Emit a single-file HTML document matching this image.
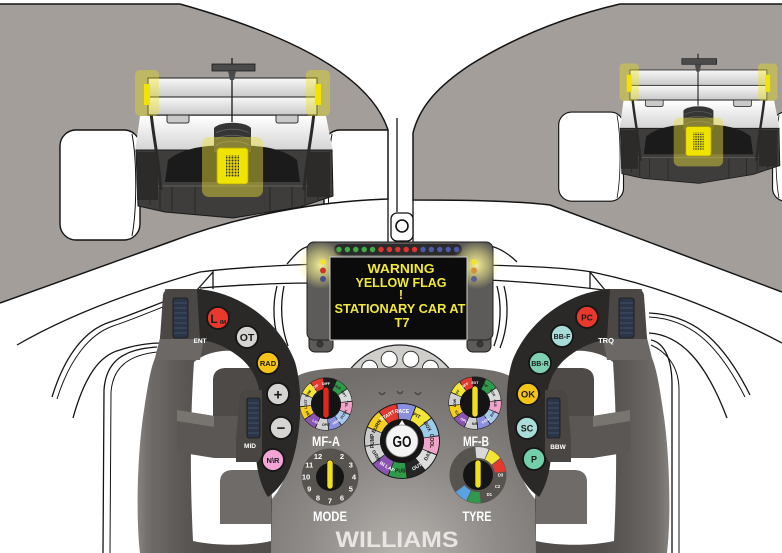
<!DOCTYPE html>
<html><head><meta charset="utf-8"><style>
html,body{margin:0;padding:0;background:#fff;}
svg{display:block;}
text{font-family:"Liberation Sans",Arial,sans-serif;font-weight:bold;}
</style></head><body>
<svg width="782" height="553" viewBox="0 0 782 553" xmlns="http://www.w3.org/2000/svg">
<defs>
 <clipPath id="clipL"><path d="M0,4 L180,4 C290,35 370,75 388,130 L388,199 C320,201 240,215 167,243 L0,303 Z"/></clipPath>
 <clipPath id="clipR"><path d="M620,4 L782,4 L782,292 L550,205 C520,201 470,200 413,200 L413,133 C420,105 440,85 470,65 C510,40 560,18 620,4 Z"/></clipPath>
 <linearGradient id="wing" x1="0" y1="0" x2="0" y2="1"><stop offset="0" stop-color="#f8f8f8"/><stop offset="1" stop-color="#c9c9c9"/></linearGradient>
 <linearGradient id="bodyWhite" x1="0" y1="0" x2="0" y2="1"><stop offset="0" stop-color="#ffffff"/><stop offset="1" stop-color="#d2d2d2"/></linearGradient>
 <pattern id="dots" width="3" height="3" patternUnits="userSpaceOnUse"><rect width="3" height="3" fill="#e5d800"/><circle cx="1.5" cy="1.5" r="0.95" fill="#333"/></pattern>
 <radialGradient id="bodyG" gradientUnits="userSpaceOnUse" cx="403" cy="560" r="190"><stop offset="0" stop-color="#b9b5b1"/><stop offset="0.5" stop-color="#8f8b88"/><stop offset="1" stop-color="#726e6b"/></radialGradient>
 <linearGradient id="gripG" gradientUnits="userSpaceOnUse" x1="137" y1="0" x2="205" y2="0"><stop offset="0" stop-color="#87837f"/><stop offset="0.2" stop-color="#6f6b68"/><stop offset="0.6" stop-color="#5e5a57"/><stop offset="1" stop-color="#524e4b"/></linearGradient>
 <radialGradient id="glow"><stop offset="0" stop-color="#fbf6a0" stop-opacity="0.95"/><stop offset="0.55" stop-color="#f3ee8a" stop-opacity="0.5"/><stop offset="1" stop-color="#f3ee8a" stop-opacity="0"/></radialGradient>
 <g id="car">
  <rect x="60" y="130" width="80" height="110" rx="16" fill="#fff" stroke="#111" stroke-width="1.4"/>
  <path d="M132,134 C137,160 137,210 132,236" fill="none" stroke="#111" stroke-width="1"/>
  <rect x="324" y="130" width="80" height="110" rx="16" fill="#fff" stroke="#111" stroke-width="1.4"/>
  <path d="M332,134 C327,160 327,210 332,236" fill="none" stroke="#111" stroke-width="1"/>
  <path d="M140,116 L326,116 L333,152 L135,152 Z" fill="url(#bodyWhite)"/>
  <path d="M136,150 L332,150 L333,196 L300,207 L233,218 L165,212 L138,206 Z" fill="#3e3d3c" stroke="#1a1a1a" stroke-width="1"/>
  <path d="M168,160 C185,146 215,144 232,147 C250,144 280,146 297,160 L300,182 L165,182 Z" fill="#1b1b1b"/>
  <path d="M140,186 L330,186" stroke="#5a5958" stroke-width="1.2"/>
  <path d="M150,187 V205 M160,187 V209 M172,187 V211 M195,187 V213 M270,187 V211 M292,187 V208 M305,187 V204 M318,187 V200" stroke="#262626" stroke-width="1"/>
  <rect x="137" y="152" width="21" height="48" fill="#2c2b2a"/>
  <rect x="307" y="152" width="23" height="45" fill="#2c2b2a"/>
  <path d="M214,152 L214,128 C220,121 245,121 251,128 L251,152 Z" fill="#363535"/>
  <path d="M216,133 C225,128 240,128 249,133 M216,139 C225,134 240,134 249,139 M216,145 C225,140 240,140 249,145" fill="none" stroke="#5c5c5c" stroke-width="1"/>
  <path d="M151,112 C153,135 158,155 161,190" fill="none" stroke="#2a2a2a" stroke-width="3"/>
  <path d="M314,112 C312,135 307,155 304,190" fill="none" stroke="#2a2a2a" stroke-width="3"/>
  <rect x="167" y="114" width="22" height="9" rx="2" fill="#c9c9c9" stroke="#333" stroke-width="1"/>
  <rect x="276" y="114" width="22" height="9" rx="2" fill="#c9c9c9" stroke="#333" stroke-width="1"/>
  <rect x="148" y="78" width="169" height="19" fill="url(#wing)" stroke="#1a1a1a" stroke-width="1"/>
  <rect x="148" y="97" width="169" height="18" fill="url(#wing)" stroke="#1a1a1a" stroke-width="1"/>
  <line x1="232" y1="58" x2="232" y2="122" stroke="#1a1a1a" stroke-width="1.3"/>
  <rect x="212" y="64" width="43" height="7" fill="#4a4a4a" stroke="#1a1a1a" stroke-width="0.8"/>
  <path d="M228,71 L236,71 L234,80 L230,80 Z" fill="#4a4a4a"/>
  <rect x="135" y="70" width="24" height="46" rx="5" fill="#f0e400" opacity="0.35"/>
  <rect x="306" y="70" width="24" height="46" rx="5" fill="#f0e400" opacity="0.35"/>
  <rect x="144" y="84" width="6" height="21" fill="#f2e300"/>
  <rect x="315" y="84" width="6" height="21" fill="#f2e300"/>
  <rect x="202" y="137" width="61" height="60" rx="7" fill="#ece03a" opacity="0.45"/>
  <rect x="217" y="148" width="31" height="36" rx="3" fill="#efe300" stroke="#b8a800" stroke-width="0.8"/>
  <rect x="226" y="155" width="13" height="22" fill="url(#dots)"/>
 </g>
 <g id="gripHalf">
  <path d="M165,289 L202,289 L202,340 L262,350 L272,500 L271,553 L140,553 C136,520 137,460 143,417 C147,390 150,370 155,358 L160,338 Z" fill="url(#gripG)"/>
  <path d="M194,362 C210,348 245,346 262,362 L266,470 L271,500 L271,541 C250,546 215,546 193,541 C190,480 190,420 194,362 Z" fill="#fff"/>
  <path d="M213,380 C213,372 218,368 226,368 L262,368 L262,423 L213,419 Z" fill="#4e4a47"/>
  <path d="M177,410 L214,416 L252,416 L252,458 L214,458 L177,452 Z" fill="#5b5754"/>
  <path d="M177,410 L214,416 L214,427 L177,421 Z" fill="#78746f"/>
  <path d="M220,482 C220,474 225,470 233,470 L271,470 L271,524 L220,524 Z" fill="#6f6b68"/>
  <path d="M163,295 Q164,289 172,289 L202,289 L204,339 L160,339 Z" fill="#4b4744"/>
  <path d="M160,339 L204,339 L200,360 L155,360 Z" fill="#6c6865"/>
  <path d="M197,289 C240,292 280,322 295,362 C304,392 301,440 290,468 C285,480 278,490 268,497 C260,485 255,465 256,445 L260,400 C260,380 250,365 238,356 C225,346 212,341 200,340 Z" fill="#2b2928"/>
  <path d="M244,390 L262,390 L262,455 L258,462 L236,462 L236,440 L240,394 Z" fill="#4a4643"/>
  <rect x="173" y="298" width="15" height="40" rx="2" fill="#2b3547" stroke="#1a1a1a" stroke-width="0.8"/>
  <path d="M174,303h13M174,308h13M174,313h13M174,318h13M174,323h13M174,328h13M174,333h13" stroke="#4a5a75" stroke-width="0.7"/>
  <rect x="247" y="398" width="13" height="40" rx="2" fill="#2b3547" stroke="#1a1a1a" stroke-width="0.8"/>
  <path d="M248,403h11M248,408h11M248,413h11M248,418h11M248,423h11M248,428h11M248,433h11" stroke="#4a5a75" stroke-width="0.7"/>
 </g>
</defs>

<!-- grey mirror regions -->
<path d="M0,4 L180,4 C290,35 370,75 388,130 L388,199 C320,201 240,215 167,243 L0,303 Z" fill="#a49e9a"/>
<path d="M620,4 L782,4 L782,292 L550,205 C520,201 470,200 413,200 L413,133 C420,105 440,85 470,65 C510,40 560,18 620,4 Z" fill="#a49e9a"/>
<g clip-path="url(#clipL)"><use href="#car"/></g>
<g clip-path="url(#clipR)"><use href="#car" transform="translate(510.1,6.8) scale(0.81)"/></g>
<g fill="none" stroke="#141414" stroke-width="1.5">
 <path d="M0,4 L180,4 C290,35 370,75 388,130 L388,199 C320,201 240,215 167,243 L0,303"/>
 <path d="M782,292 L550,205 C520,201 470,200 413,200 L413,133 C420,105 440,85 470,65 C510,40 560,18 620,4 L782,4"/>
</g>

<!-- halo lines -->
<g fill="none" stroke="#151515" stroke-width="1.3">
 <path d="M388,199 L388,242"/>
 <path d="M413,200 L413,242"/>
 <path d="M397,118 C397,160 397,190 397,212"/>
 <path d="M17,345 C60,320 120,295 200,272 C240,267 290,265 320,264"/>
 <path d="M480,265 C530,266 570,268 592,272 C640,282 700,300 782,343"/>
 <path d="M200,288 C240,285 280,283 313,283"/>
 <path d="M487,280 C530,282 565,285 612,291"/>
 <path d="M197,290 L213,272 L213,289"/>
 <path d="M590,272 L590,289 M590,272 L605,290"/>
 <path d="M287,264 C295,255 300,248 310,246"/>
 <path d="M490,246 C500,248 510,255 517,262"/>
 <path d="M52,397 C65,355 85,330 110,322 C140,312 170,298 197,290"/>
 <path d="M57,399 C70,358 90,334 113,326 C143,316 172,302 199,294" stroke-width="1"/>
 <path d="M73,418 C85,375 100,355 120,350 C135,345 150,343 162,343"/>
 <path d="M103,553 L104,390 C106,360 125,349 157,347"/>
 <path d="M110,553 L111,392 C113,366 130,355 157,352" stroke-width="1"/>
 <path d="M649,313 C690,315 720,335 750,395"/>
 <path d="M649,317 C688,319 716,340 745,397" stroke-width="1"/>
 <path d="M649,333 C680,335 705,360 727,418"/>
 <path d="M651,340 C665,343 672,360 672,385 L672,553"/>
 <path d="M651,345 C662,350 679,362 679,390 L679,553" stroke-width="1"/>
 <path d="M277,286 C272,305 273,328 281,348"/>
 <path d="M284,286 C280,305 281,327 288,346"/>
 <path d="M504,286 C509,305 508,328 500,348"/>
 <path d="M497,286 C502,305 501,327 494,346"/>
</g>
<rect x="391" y="213" width="22" height="28" rx="6" fill="#fff" stroke="#111" stroke-width="1.3"/>
<circle cx="402" cy="226" r="6" fill="#fff" stroke="#111" stroke-width="1.6"/>

<!-- hub -->
<circle cx="400" cy="408" r="63" fill="#d0cecb" stroke="#222" stroke-width="1.2"/>
<g fill="#fff" stroke="#333" stroke-width="1">
 <circle cx="389.2" cy="359.2" r="8"/><circle cx="410.8" cy="359.2" r="8"/>
 <circle cx="430.4" cy="368.3" r="8"/><circle cx="369.6" cy="368.3" r="8"/>
</g>

<!-- center body -->
<path d="M271,553 L271,500 C280,490 288,475 290,455 L290,385 C292,372 320,368 350,368 L457,368 C487,368 515,372 517,385 L517,455 C519,475 527,490 536,500 L536,553 Z" fill="url(#bodyG)"/>

<!-- grips -->
<use href="#gripHalf"/>
<use href="#gripHalf" transform="translate(807,0) scale(-1,1)"/>

<!-- buttons -->
<g stroke="#151515" stroke-width="1.8">
 <circle cx="218" cy="318" r="11" fill="#e8392c"/>
 <circle cx="247" cy="337" r="11" fill="#d6d4d2"/>
 <circle cx="268" cy="363" r="11" fill="#f6c417"/>
 <circle cx="278" cy="394" r="11" fill="#d6d4d2"/>
 <circle cx="281" cy="428" r="11" fill="#d6d4d2"/>
 <circle cx="273" cy="460" r="11" fill="#f2a4d6"/>
 <circle cx="587" cy="317" r="11" fill="#e8392c"/>
 <circle cx="562" cy="336" r="11" fill="#a9dcd9"/>
 <circle cx="540" cy="363" r="11" fill="#7fd0b3"/>
 <circle cx="528" cy="394" r="11" fill="#f6c417"/>
 <circle cx="527" cy="428" r="11" fill="#a9dcd9"/>
 <circle cx="534" cy="459" r="11" fill="#72cfa9"/>
</g>
<g fill="#1a1a1a" text-anchor="middle">
 <text x="214" y="323" font-size="12" font-weight="normal">L</text>
 <text x="223" y="324" font-size="5.5">IM</text>
 <text x="247" y="341" font-size="10.5">OT</text>
 <text x="268" y="366" font-size="7.5">RAD</text>
 <text x="278" y="399.5" font-size="15">+</text>
 <text x="281" y="433" font-size="15">−</text>
 <text x="273" y="463" font-size="7.5">N\R</text>
 <text x="587" y="320.5" font-size="8.5">PC</text>
 <text x="562" y="339" font-size="7">BB-F</text>
 <text x="540" y="366" font-size="7">BB-R</text>
 <text x="528" y="397.5" font-size="9.5">OK</text>
 <text x="527" y="431.5" font-size="9">SC</text>
 <text x="534" y="462.5" font-size="9">P</text>
</g>
<g fill="#fff" text-anchor="middle">
 <text x="200" y="343" font-size="6.5">ENT</text>
 <text x="250" y="448" font-size="6.5">MID</text>
 <text x="606" y="343" font-size="7.5">TRQ</text>
 <text x="558" y="449" font-size="6.5">BBW</text>
</g>

<!-- GO dial -->
<path d="M379,392 Q382,397 385,392 M397,391 Q400,396 403,391 M415,392 Q418,397 421,392" fill="none" stroke="#4a4644" stroke-width="1.4"/>
<g transform="translate(402,441)">
 <circle r="38" fill="#1b1b1b"/>
 <g fill="none" stroke-width="15" stroke-dasharray="14.6 170.75">
  <circle r="29.5" stroke="#8a8fe0" transform="rotate(-97.3)"/>
  <circle r="29.5" stroke="#f3e536" transform="rotate(-67.3)"/>
  <circle r="29.5" stroke="#9fcbea" transform="rotate(-37.3)"/>
  <circle r="29.5" stroke="#f1a3c9" transform="rotate(-7.3)"/>
  <circle r="29.5" stroke="#dcdcdc" transform="rotate(22.7)"/>
  <circle r="29.5" stroke="#262626" transform="rotate(52.7)"/>
  <circle r="29.5" stroke="#2f9a49" transform="rotate(82.7)"/>
  <circle r="29.5" stroke="#8b54b3" transform="rotate(112.7)"/>
  <circle r="29.5" stroke="#d4d4d4" transform="rotate(142.7)"/>
  <circle r="29.5" stroke="#cacaca" transform="rotate(172.7)"/>
  <circle r="29.5" stroke="#f5cf1d" transform="rotate(202.7)"/>
  <circle r="29.5" stroke="#e23a30" transform="rotate(232.7)"/>
 </g>
 <g font-size="5" text-anchor="middle" fill="#222">
  <text transform="rotate(0) translate(0,-27.8)" fill="#fff">RACE</text>
  <text transform="rotate(30) translate(0,-27.8)">PIT</text>
  <text transform="rotate(60) translate(0,-27.8)">BOX</text>
  <text transform="rotate(90) translate(0,-27.8)">COOL</text>
  <text transform="rotate(120) translate(0,-29.5) rotate(180) translate(0,1.8)">DAT</text>
  <text transform="rotate(150) translate(0,-29.5) rotate(180) translate(0,1.8)" fill="#fff">OUT</text>
  <text transform="rotate(180) translate(0,-29.5) rotate(180) translate(0,1.8)">PUSH</text>
  <text transform="rotate(210) translate(0,-29.5) rotate(180) translate(0,1.8)" fill="#fff">IN LAP</text>
  <text transform="rotate(240) translate(0,-29.5) rotate(180) translate(0,1.8)">GRID</text>
  <text transform="rotate(270) translate(0,-27.8)">PUMP</text>
  <text transform="rotate(300) translate(0,-27.8)">BURN</text>
  <text transform="rotate(330) translate(0,-27.8)" fill="#fff">START</text>
 </g>
 <circle r="22" fill="#151515"/>
 <path d="M0,-21 L7,-10 L-7,-10 Z" fill="#f4f4f4"/>
 <circle r="16" fill="#f4f4f4" stroke="#8a8a8a" stroke-width="0.8"/>
 <text x="0" y="6" font-size="16" text-anchor="middle" fill="#111" textLength="19" lengthAdjust="spacingAndGlyphs">GO</text>
</g>

<!-- MF-A -->
<g transform="translate(326,404)">
 <circle r="26.5" fill="#1b1b1b"/>
 <g fill="none" stroke-width="11" stroke-dasharray="10 118.81">
  <circle r="20.5" stroke="#1c1c1c" transform="rotate(-95)"/>
  <circle r="20.5" stroke="#2f9a49" transform="rotate(-65)"/>
  <circle r="20.5" stroke="#dadada" transform="rotate(-35)"/>
  <circle r="20.5" stroke="#f1a3c9" transform="rotate(-5)"/>
  <circle r="20.5" stroke="#a9c8ee" transform="rotate(25)"/>
  <circle r="20.5" stroke="#8a8fe0" transform="rotate(55)"/>
  <circle r="20.5" stroke="#d0d0d0" transform="rotate(85)"/>
  <circle r="20.5" stroke="#8b54b3" transform="rotate(115)"/>
  <circle r="20.5" stroke="#f5cf1d" transform="rotate(145)"/>
  <circle r="20.5" stroke="#d0d0d0" transform="rotate(175)"/>
  <circle r="20.5" stroke="#f3e536" transform="rotate(205)"/>
  <circle r="20.5" stroke="#e23a30" transform="rotate(235)"/>
 </g>
 <g font-size="3.6" text-anchor="middle" fill="#222">
  <text transform="rotate(0) translate(0,-19.2)" fill="#fff">DIFF</text>
  <text transform="rotate(30) translate(0,-19.2)">OVER</text>
  <text transform="rotate(60) translate(0,-19.2)">OPT</text>
  <text transform="rotate(90) translate(0,-19.2)">TEL</text>
  <text transform="rotate(120) translate(0,-20.5) rotate(180) translate(0,1.3)">PUSH</text>
  <text transform="rotate(150) translate(0,-20.5) rotate(180) translate(0,1.3)" fill="#fff">HAR</text>
  <text transform="rotate(180) translate(0,-20.5) rotate(180) translate(0,1.3)">OPIT</text>
  <text transform="rotate(210) translate(0,-20.5) rotate(180) translate(0,1.3)" fill="#fff">LAP</text>
  <text transform="rotate(240) translate(0,-20.5) rotate(180) translate(0,1.3)">DEF</text>
  <text transform="rotate(270) translate(0,-19.2)">LOST</text>
  <text transform="rotate(300) translate(0,-19.2)">TOW</text>
  <text transform="rotate(330) translate(0,-19.2)" fill="#fff">DIF</text>
 </g>
 <circle r="15" fill="#141414"/>
 <rect x="-3" y="-17" width="6" height="31" rx="3" fill="#e0281f" stroke="#0d0d0d" stroke-width="0.6"/>
</g>

<!-- MF-B -->
<g transform="translate(475,403)">
 <circle r="26.5" fill="#1b1b1b"/>
 <g fill="none" stroke-width="11" stroke-dasharray="10 118.81">
  <circle r="20.5" stroke="#1c1c1c" transform="rotate(-95)"/>
  <circle r="20.5" stroke="#2f9a49" transform="rotate(-65)"/>
  <circle r="20.5" stroke="#dadada" transform="rotate(-35)"/>
  <circle r="20.5" stroke="#f1a3c9" transform="rotate(-5)"/>
  <circle r="20.5" stroke="#a9c8ee" transform="rotate(25)"/>
  <circle r="20.5" stroke="#8a8fe0" transform="rotate(55)"/>
  <circle r="20.5" stroke="#d0d0d0" transform="rotate(85)"/>
  <circle r="20.5" stroke="#8b54b3" transform="rotate(115)"/>
  <circle r="20.5" stroke="#f5cf1d" transform="rotate(145)"/>
  <circle r="20.5" stroke="#d0d0d0" transform="rotate(175)"/>
  <circle r="20.5" stroke="#f3e536" transform="rotate(205)"/>
  <circle r="20.5" stroke="#e23a30" transform="rotate(235)"/>
 </g>
 <g font-size="3.6" text-anchor="middle" fill="#222">
  <text transform="rotate(0) translate(0,-19.2)" fill="#fff">EXT</text>
  <text transform="rotate(30) translate(0,-19.2)">DIF</text>
  <text transform="rotate(60) translate(0,-19.2)">BCR</text>
  <text transform="rotate(90) translate(0,-19.2)">ALB</text>
  <text transform="rotate(120) translate(0,-20.5) rotate(180) translate(0,1.3)">BAL</text>
  <text transform="rotate(150) translate(0,-20.5) rotate(180) translate(0,1.3)" fill="#fff">CON</text>
  <text transform="rotate(180) translate(0,-20.5) rotate(180) translate(0,1.3)">N/B</text>
  <text transform="rotate(210) translate(0,-20.5) rotate(180) translate(0,1.3)" fill="#fff">OPLY</text>
  <text transform="rotate(240) translate(0,-20.5) rotate(180) translate(0,1.3)">ICK</text>
  <text transform="rotate(270) translate(0,-19.2)">LOW</text>
  <text transform="rotate(300) translate(0,-19.2)">TFF</text>
  <text transform="rotate(330) translate(0,-19.2)" fill="#fff">DIFF</text>
 </g>
 <circle r="15" fill="#141414"/>
 <rect x="-3" y="-17" width="6" height="31" rx="3" fill="#f0e11c" stroke="#0d0d0d" stroke-width="0.6"/>
</g>

<!-- MODE -->
<circle cx="330" cy="477" r="28.5" fill="#57534f"/>
<g font-size="7.5" fill="#fff" text-anchor="middle" style="font-weight:normal">
 <text x="342" y="458.9">2</text><text x="350.8" y="467.7">3</text><text x="354" y="479.7">4</text>
 <text x="350.8" y="491.7">5</text><text x="342" y="500.5">6</text><text x="330" y="503.7">7</text>
 <text x="318" y="500.5">8</text><text x="309.2" y="491.7">9</text><text x="306" y="479.7">10</text>
 <text x="309.2" y="467.7">11</text><text x="318" y="458.9">12</text>
</g>
<circle cx="330" cy="477" r="14" fill="#141414"/>
<rect x="327" y="460" width="6" height="29" rx="3" fill="#f0e11c" stroke="#0d0d0d" stroke-width="0.6"/>

<!-- TYRE -->
<g transform="translate(478,475)">
 <circle r="28.5" fill="#57534f"/>
 <g fill="none" stroke-width="11" stroke-dasharray="11 130.37">
  <circle r="22.5" stroke="#d9d9d9" transform="rotate(-95.5)"/>
  <circle r="22.5" stroke="#f3e536" transform="rotate(-65.5)"/>
  <circle r="22.5" stroke="#e23a30" transform="rotate(-35.5)"/>
  <circle r="22.5" stroke="#2f9a49" transform="rotate(84.5)"/>
  <circle r="22.5" stroke="#5aa3e3" transform="rotate(114.5)"/>
 </g>
 <g font-size="4.2" fill="#fff" text-anchor="middle">
  <text x="22.5" y="1.5">D3</text><text x="19.5" y="12.8">C2</text><text x="11.3" y="21">D1</text>
 </g>
 <circle r="15" fill="#141414"/>
 <rect x="-3" y="-15" width="6" height="28" rx="3" fill="#f0e11c" stroke="#0d0d0d" stroke-width="0.6"/>
</g>

<!-- labels -->
<g fill="#fff" text-anchor="middle" font-size="13.5">
 <text x="326" y="446" textLength="28" lengthAdjust="spacingAndGlyphs">MF-A</text>
 <text x="476" y="446" textLength="26" lengthAdjust="spacingAndGlyphs">MF-B</text>
 <text x="330" y="521" textLength="34" lengthAdjust="spacingAndGlyphs">MODE</text>
 <text x="477" y="521" textLength="29" lengthAdjust="spacingAndGlyphs">TYRE</text>
</g>
<text x="397" y="547" font-size="22" fill="#e8e6e3" text-anchor="middle" textLength="123" lengthAdjust="spacingAndGlyphs">WILLIAMS</text>

<!-- display -->
<rect x="309" y="322" width="24" height="30" rx="6" fill="#5d5b59" stroke="#1e1e1e" stroke-width="1"/>
<rect x="467" y="322" width="24" height="30" rx="6" fill="#5d5b59" stroke="#1e1e1e" stroke-width="1"/>
<circle cx="320" cy="344" r="3" fill="#3b3a39" stroke="#222" stroke-width="0.8"/>
<circle cx="480" cy="344" r="3" fill="#3b3a39" stroke="#222" stroke-width="0.8"/>
<rect x="307" y="242" width="186" height="98" rx="7" fill="#5d5b59" stroke="#1e1e1e" stroke-width="1"/>
<rect x="334" y="244" width="128" height="11" rx="5.5" fill="#2b2b2b"/>
<circle cx="321" cy="265" r="24" fill="url(#glow)"/>
<circle cx="476" cy="265" r="24" fill="url(#glow)"/>
<rect x="330" y="257" width="137" height="83" fill="#0b0b0b" stroke="#cfcfcf" stroke-width="1"/>
<g>
 <circle cx="323" cy="262" r="3" fill="#f3e330"/>
 <circle cx="323" cy="270.5" r="3" fill="#c9372c"/>
 <circle cx="323" cy="279" r="3" fill="#4a4f8a"/>
 <circle cx="474" cy="262" r="3" fill="#f3e330"/>
 <circle cx="474" cy="270.5" r="3" fill="#d0913a"/>
 <circle cx="474" cy="279" r="3" fill="#5a5e92"/>
</g>
<g>
 <circle cx="339" cy="249.5" r="2.7" fill="#3fae49"/><circle cx="347.4" cy="249.5" r="2.7" fill="#3fae49"/>
 <circle cx="355.8" cy="249.5" r="2.7" fill="#3fae49"/><circle cx="364.2" cy="249.5" r="2.7" fill="#3fae49"/>
 <circle cx="372.6" cy="249.5" r="2.7" fill="#3fae49"/>
 <circle cx="381" cy="249.5" r="2.7" fill="#e2332f"/><circle cx="389.4" cy="249.5" r="2.7" fill="#e2332f"/>
 <circle cx="397.8" cy="249.5" r="2.7" fill="#e2332f"/><circle cx="406.2" cy="249.5" r="2.7" fill="#e2332f"/>
 <circle cx="414.6" cy="249.5" r="2.7" fill="#e2332f"/>
 <circle cx="423" cy="249.5" r="2.7" fill="#4e5aa8"/><circle cx="431.4" cy="249.5" r="2.7" fill="#4e5aa8"/>
 <circle cx="439.8" cy="249.5" r="2.7" fill="#4e5aa8"/><circle cx="448.2" cy="249.5" r="2.7" fill="#4e5aa8"/>
 <circle cx="456.6" cy="249.5" r="2.7" fill="#4e5aa8"/>
</g>
<g fill="#f1e83a" text-anchor="middle" font-size="12.5">
 <text x="401" y="273" textLength="67" lengthAdjust="spacingAndGlyphs">WARNING</text>
 <text x="401" y="287" textLength="91" lengthAdjust="spacingAndGlyphs">YELLOW FLAG</text>
 <text x="401" y="299">!</text>
 <text x="400" y="313" textLength="131" lengthAdjust="spacingAndGlyphs">STATIONARY CAR AT</text>
 <text x="402" y="327" textLength="15" lengthAdjust="spacingAndGlyphs">T7</text>
</g>
</svg>
</body></html>
